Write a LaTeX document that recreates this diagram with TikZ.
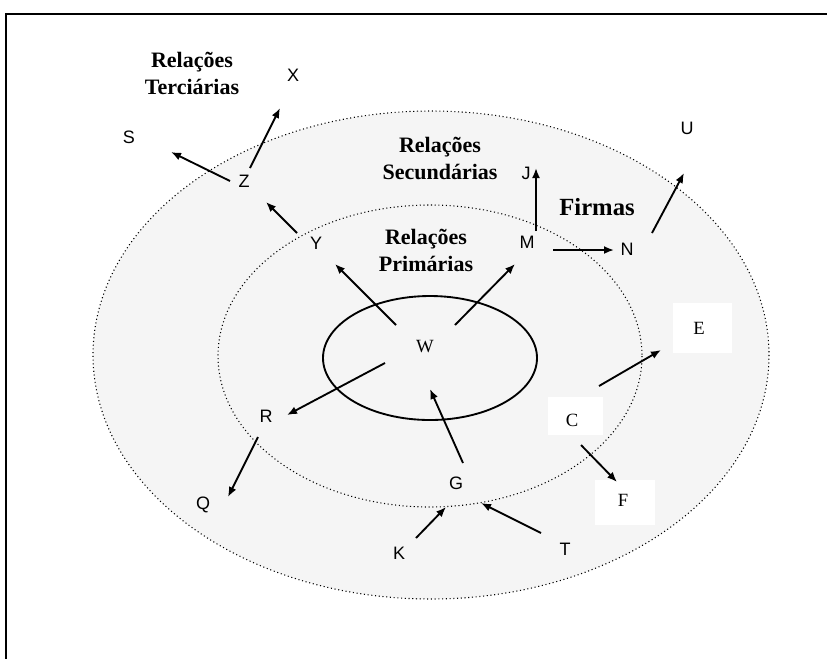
\documentclass[tikz,border=0pt]{standalone}
\usepackage{fontspec}
\setmainfont{Liberation Serif}
\newfontfamily\arialfont{Liberation Sans}
\usetikzlibrary{arrows.meta}
\begin{document}
\begin{tikzpicture}[x=0.75pt,y=-0.75pt,
  lbl/.style={font=\arialfont\fontsize{13.5}{16}\selectfont, inner sep=0pt},
  tlbl/.style={font=\fontsize{14}{16}\selectfont, inner sep=0pt},
  ttl/.style={font=\bfseries\fontsize{16.5}{20.3}\selectfont, align=center, inner sep=0pt},
  wbox/.style={fill=white, draw=none, inner sep=0pt},
  arr/.style={-{Latex[length=7.5pt,width=6pt]}, line width=1.4pt},
  dotline/.style={dotted, line width=0.8pt},
  shade/.style={fill=black!4}]
\useasboundingbox (0,0) rectangle (827,658);
% frame
\draw[line width=2pt] (6,660) -- (6,14) -- (830,14);
% ellipses
\draw[dotline, shade] (431,355) ellipse [x radius=338, y radius=244];
\draw[dotline] (430,356) ellipse [x radius=212, y radius=151];
\draw[line width=1.4pt] (430,358) ellipse [x radius=107, y radius=62];
% white boxes
\node[wbox, minimum width=59*0.75pt, minimum height=50*0.75pt] (Ebox) at (702,328) {};
\node[wbox, minimum width=55*0.75pt, minimum height=38*0.75pt] (Cbox) at (575,416) {};
\node[wbox, minimum width=60*0.75pt, minimum height=45*0.75pt] (Fbox) at (625,502) {};
% titles
\node[ttl] (terc) at (192,73) {Relações\\Terciárias};
\node[ttl] (sec) at (440,158) {Relações\\Secundárias};
\node[ttl] (prim) at (426,250) {Relações\\Primárias};
\node[font=\bfseries\fontsize{18.5}{22}\selectfont, inner sep=0pt] (firmas) at (597,207) {Firmas};
% letters
\node[lbl] (X) at (293,75) {X};
\node[lbl] (S) at (129,137) {S};
\node[lbl] (Z) at (244,181) {Z};
\node[lbl] (Y) at (316,243) {Y};
\node[lbl] (J) at (526,173) {J};
\node[lbl] (M) at (527,242) {M};
\node[lbl] (N) at (627,249) {N};
\node[lbl] (U) at (687,128) {U};
\node[lbl] (R) at (266,416) {R};
\node[lbl] (Q) at (203,505) {Q};
\node[lbl] (G) at (456,483) {G};
\node[lbl] (K) at (399,553) {K};
\node[lbl] (T) at (565,549) {T};
\node[tlbl] (W) at (425,347) {W};
\node[tlbl] (E) at (699,328) {E};
\node[tlbl] (C) at (572,420) {C};
\node[tlbl] (F) at (623,500) {F};
% arrow endpoints
\coordinate (zx1) at (250,168); \coordinate (zx2) at (280,108);
\coordinate (zs1) at (230,181); \coordinate (zs2) at (171,152);
\coordinate (yz1) at (297,233); \coordinate (yz2) at (266,202);
\coordinate (wy1) at (396,325); \coordinate (wy2) at (335,264);
\coordinate (wm1) at (455,325); \coordinate (wm2) at (515,264);
\coordinate (mj1) at (536,231); \coordinate (mj2) at (536,168);
\coordinate (mn1) at (553,250); \coordinate (mn2) at (614,250);
\coordinate (nu1) at (652,233); \coordinate (nu2) at (684,173);
\coordinate (ce1) at (599,386); \coordinate (ce2) at (661,350);
\coordinate (cf1) at (581,445); \coordinate (cf2) at (617,482);
\coordinate (wr1) at (385,363); \coordinate (wr2) at (287,415);
\coordinate (rq1) at (258,437); \coordinate (rq2) at (228,497);
\coordinate (gw1) at (463,463); \coordinate (gw2) at (430,389);
\coordinate (kg1) at (416,538); \coordinate (kg2) at (446,507);
\coordinate (tg1) at (541,533); \coordinate (tg2) at (481,503);
% arrows
\draw[arr] (zx1) -- (zx2);
\draw[arr] (zs1) -- (zs2);
\draw[arr] (yz1) -- (yz2);
\draw[arr] (wy1) -- (wy2);
\draw[arr] (wm1) -- (wm2);
\draw[arr] (mj1) -- (mj2);
\draw[arr] (mn1) -- (mn2);
\draw[arr] (nu1) -- (nu2);
\draw[arr] (ce1) -- (ce2);
\draw[arr] (cf1) -- (cf2);
\draw[arr] (wr1) -- (wr2);
\draw[arr] (rq1) -- (rq2);
\draw[arr] (gw1) -- (gw2);
\draw[arr] (kg1) -- (kg2);
\draw[arr] (tg1) -- (tg2);
\end{tikzpicture}
\end{document}
